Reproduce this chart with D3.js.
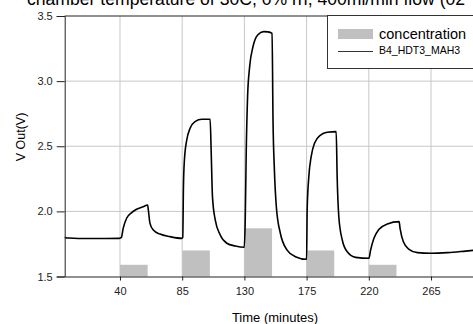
<!DOCTYPE html>
<html>
<head>
<meta charset="utf-8">
<script src="https://cdn.jsdelivr.net/npm/d3@7"></script>
<style>
  body { margin: 0; background: #fff; }
  svg { display: block; font-family: "Liberation Sans", Arial, sans-serif; }
</style>
</head>
<body>
<svg id="chart" width="473" height="324"></svg>
<script>
// concentration pulses (start time, value on the V axis)
const concStart = [40, 85, 130, 175, 220]
const concValue = [1.59, 1.70, 1.87, 1.70, 1.59]
const concLength = 20

// sensor output B4_HDT3_MAH3
const times = [0, 3, 10, 20, 30, 39.5, 41, 42.3, 44.8, 48.4, 52, 56.8, 60, 60.5, 61.7, 64.1, 68.9, 76.2, 84.7,
  85.4, 85.9, 86.6, 88.3, 90.7, 94.3, 99.2, 105.2, 106.0, 106.9, 108.9, 112.5, 117.3, 123.4, 129.9,
  130.6, 131.3, 132.3, 133.8, 136.2, 139.6, 143.9, 147, 150, 150.7, 151.7, 153.1, 156.0, 160.9, 166.9, 175.0,
  175.4, 176.6, 178.3, 180.7, 185.1, 189.9, 196.4, 197.1, 198.3, 200.8, 204.4, 210.5, 220.1,
  221.3, 223.7, 227.4, 233.4, 241.9, 242.6, 245.0, 249.1, 255.2, 264.9, 277.0, 290, 300]
const vout = [1.80, 1.795, 1.792, 1.792, 1.792, 1.793, 1.80, 1.87, 1.947, 1.99, 2.016, 2.036, 2.049, 2.011, 1.908, 1.857, 1.826, 1.806, 1.793,
  1.80, 2.19, 2.394, 2.548, 2.638, 2.689, 2.707, 2.707, 2.446, 2.113, 1.934, 1.819, 1.755, 1.734, 1.724,
  1.934, 2.446, 2.88, 3.111, 3.264, 3.354, 3.38, 3.378, 3.367, 2.70, 2.318, 2.036, 1.832, 1.703, 1.652, 1.632,
  2.011, 2.266, 2.42, 2.523, 2.586, 2.607, 2.612, 2.266, 1.959, 1.78, 1.69, 1.647, 1.640,
  1.703, 1.793, 1.862, 1.903, 1.921, 1.87, 1.767, 1.709, 1.683, 1.678, 1.683, 1.695, 1.705]

const xTicks = [40, 85, 130, 175, 220, 265]
const yTicks = [1.5, 2.0, 2.5, 3.0, 3.5]

let svg = d3.select('#chart')

let x = d3.scaleLinear().domain([0, 300]).range([64.7, 479.4])
let y = d3.scaleLinear().domain([1.5, 3.5]).range([276.5, 16])

// title, cut off at the top like the original
svg.append('text')
  .attr('x', 27).attr('y', 5)
  .attr('font-size', 17.6)
  .attr('fill', '#000')
  .text('chamber temperature of 30C, 0% rh, 400ml/min flow (02')

// grid
svg.append('g').selectAll('line.v')
  .data(xTicks).enter().append('line')
  .attr('x1', d => x(d)).attr('x2', d => x(d))
  .attr('y1', y(3.5)).attr('y2', y(1.5))
  .attr('stroke', '#c8c8c8').attr('stroke-width', 1)

svg.append('g').selectAll('line.h')
  .data([2.0, 2.5, 3.0]).enter().append('line')
  .attr('x1', x(0)).attr('x2', 473)
  .attr('y1', d => y(d)).attr('y2', d => y(d))
  .attr('stroke', '#c8c8c8').attr('stroke-width', 1)

// concentration bars
svg.append('g').selectAll('rect')
  .data(concStart).enter().append('rect')
  .attr('x', d => x(d))
  .attr('width', d => x(d + concLength) - x(d))
  .attr('y', (d, i) => y(concValue[i]))
  .attr('height', (d, i) => y(1.5) - y(concValue[i]))
  .attr('fill', '#c0c0c0')

// trace
let line = d3.line()
  .x((d, i) => x(times[i]))
  .y(d => y(d))
  .curve(d3.curveMonotoneX)

svg.append('path')
  .datum(vout)
  .attr('d', line)
  .attr('fill', 'none')
  .attr('stroke', '#000')
  .attr('stroke-width', 1.6)

// top frame
svg.append('line')
  .attr('x1', x(0)).attr('x2', 473)
  .attr('y1', y(3.5)).attr('y2', y(3.5))
  .attr('stroke', '#222')

// axes
let yAxis = svg.append('g')
  .attr('transform', `translate(${x(0)},0)`)
  .call(d3.axisLeft(y).tickValues(yTicks).tickFormat(d3.format('.1f')).tickSize(8).tickPadding(4))
let xAxis = svg.append('g')
  .attr('transform', `translate(0,${y(1.5)})`)
  .call(d3.axisBottom(x).tickValues(xTicks).tickSize(4).tickPadding(7).tickSizeOuter(0))

for (let ax of [xAxis, yAxis]) {
  ax.select('.domain').attr('stroke', '#222')
  ax.selectAll('.tick line').attr('stroke', '#222')
  ax.selectAll('text').attr('font-size', 11).attr('fill', '#222')
    .attr('font-family', '"Liberation Sans", Arial, sans-serif')
}

svg.append('text')
  .attr('x', 275).attr('y', 322)
  .attr('text-anchor', 'middle')
  .attr('font-size', 13)
  .text('Time (minutes)')

svg.append('text')
  .attr('transform', 'translate(25,137) rotate(-90)')
  .attr('text-anchor', 'middle')
  .attr('font-size', 12.5)
  .text('V Out(V)')

// legend
let legend = svg.append('g')
legend.append('rect')
  .attr('x', 327.5).attr('y', 15.5).attr('width', 160).attr('height', 53)
  .attr('fill', '#fff').attr('stroke', '#333')
legend.append('rect')
  .attr('x', 338).attr('y', 29).attr('width', 35).attr('height', 10)
  .attr('fill', '#c0c0c0')
legend.append('text')
  .attr('x', 379).attr('y', 39)
  .attr('font-size', 14.5)
  .text('concentration')
legend.append('line')
  .attr('x1', 338).attr('x2', 373).attr('y1', 51.5).attr('y2', 51.5)
  .attr('stroke', '#333')
legend.append('text')
  .attr('x', 379).attr('y', 54)
  .attr('font-size', 10.5)
  .text('B4_HDT3_MAH3')
</script>
</body>
</html>
